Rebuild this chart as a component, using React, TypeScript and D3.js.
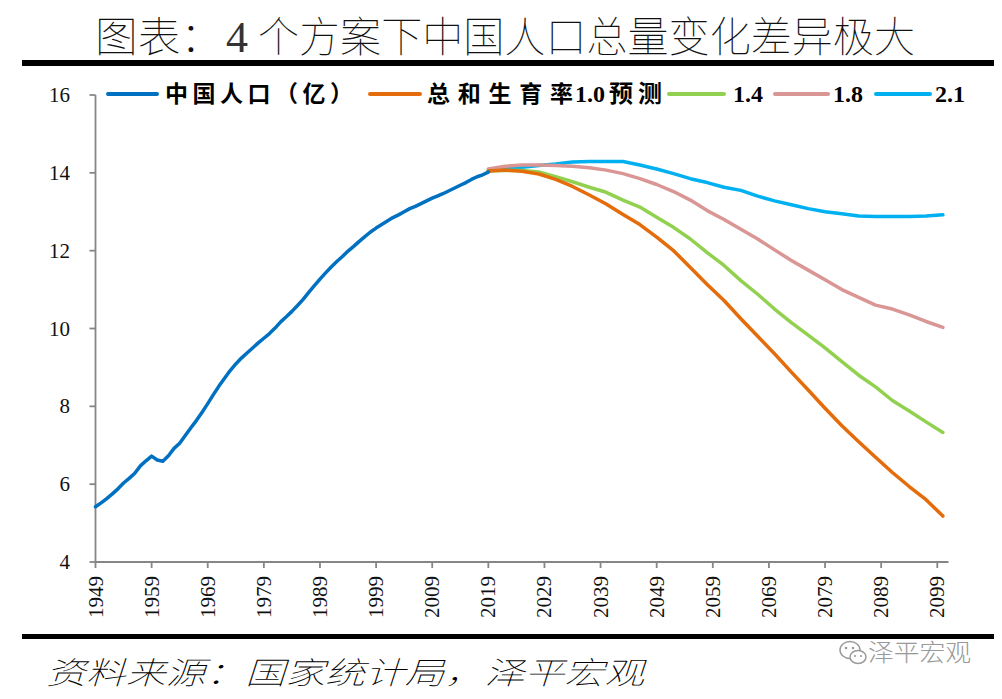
import React from "react";
import * as d3 from "d3";

// ---- data ----
const histYears: number[] = d3.range(1949, 2020);
const histPop: number[] = [
  5.42, 5.52, 5.63, 5.75, 5.88, 6.03, 6.15, 6.28, 6.47, 6.6,
  6.72, 6.62, 6.59, 6.73, 6.92, 7.05, 7.25, 7.45, 7.64, 7.85,
  8.07, 8.3, 8.52, 8.72, 8.92, 9.09, 9.24, 9.37, 9.5, 9.63,
  9.75, 9.87, 10.01, 10.17, 10.3, 10.44, 10.59, 10.75, 10.93, 11.1,
  11.27, 11.43, 11.58, 11.72, 11.85, 11.99, 12.11, 12.24, 12.36, 12.48,
  12.58, 12.67, 12.76, 12.85, 12.92, 13.0, 13.08, 13.14, 13.21, 13.28,
  13.35, 13.41, 13.47, 13.54, 13.61, 13.68, 13.75, 13.83, 13.9, 13.95,
  14.02,
];
const projYears: number[] = [
  2019, 2022, 2025, 2028, 2031, 2034, 2037, 2040, 2043, 2046, 2049, 2052, 2055, 2058,
  2061, 2064, 2067, 2070, 2073, 2076, 2079, 2082, 2085, 2088, 2091, 2094, 2097, 2100,
];
const tfr10: number[] = [
  14.05, 14.07, 14.04, 13.97, 13.83, 13.65, 13.43, 13.2, 12.93, 12.67, 12.35, 12.0, 11.57, 11.13,
  10.72, 10.25, 9.8, 9.35, 8.88, 8.42, 7.95, 7.5, 7.09, 6.69, 6.3, 5.94, 5.6, 5.18,
];
const tfr14: number[] = [
  14.05, 14.06, 14.06, 14.02, 13.9, 13.77, 13.63, 13.5, 13.3, 13.12, 12.86, 12.6, 12.3, 11.95,
  11.62, 11.23, 10.88, 10.5, 10.15, 9.83, 9.5, 9.15, 8.8, 8.5, 8.15, 7.88, 7.6, 7.33,
];
const tfr18: number[] = [
  14.1, 14.17, 14.2, 14.2, 14.19, 14.17, 14.13, 14.07, 13.98, 13.85, 13.7, 13.52, 13.3, 13.03,
  12.8, 12.55, 12.3, 12.02, 11.75, 11.5, 11.25, 11.0, 10.8, 10.6, 10.5, 10.35, 10.18, 10.03,
];
const tfr21: number[] = [
  14.06, 14.1, 14.14, 14.19, 14.23, 14.28, 14.29, 14.29, 14.29, 14.2, 14.1, 13.98, 13.85, 13.75,
  13.63, 13.55, 13.4, 13.28, 13.18, 13.08, 13.0, 12.95, 12.89, 12.88, 12.88, 12.88, 12.89, 12.92,
];
const xTickYears: number[] = [1949, 1959, 1969, 1979, 1989, 1999, 2009, 2019, 2029, 2039, 2049, 2059, 2069, 2079, 2089, 2099];
const yTicks: number[] = [4, 6, 8, 10, 12, 14, 16];

const titleA = "图表：";
const titleNum = "4";
const titleB = "个方案下中国人口总量变化差异极大";
const sourceText = "资料来源：国家统计局，泽平宏观";
const watermarkText = "泽平宏观";

const COLORS = {
  hist: "#0070C0",
  t10: "#E46C0A",
  t14: "#92D050",
  t18: "#D99694",
  t21: "#00B0F0",
};

const CJK = "'Noto Sans CJK SC', 'Noto Sans', sans-serif";
const SERIF = "'Liberation Serif', 'DejaVu Serif', serif";

export default function App() {
  const W = 1002, H = 699;
  const x = d3.scaleLinear().domain([1949, 2101]).range([95.5, 948.5]);
  const y = d3.scaleLinear().domain([4, 16]).range([562, 95]);
  const line = d3
    .line<[number, number]>()
    .x((d) => x(d[0]))
    .y((d) => y(d[1]))
    .curve(d3.curveLinear);

  const histData = histYears.map((yr, i) => [yr, histPop[i]] as [number, number]);
  const mk = (vals: number[]) => projYears.map((yr, i) => [yr, vals[i]] as [number, number]);

  const series = [
    { data: mk(tfr21), color: COLORS.t21 },
    { data: mk(tfr18), color: COLORS.t18 },
    { data: mk(tfr14), color: COLORS.t14 },
    { data: mk(tfr10), color: COLORS.t10 },
    { data: histData, color: COLORS.hist },
  ];

  const legendY = 94;
  const legend = [
    { x1: 108, x2: 157, color: COLORS.hist },
    { x1: 370, x2: 420, color: COLORS.t10 },
    { x1: 669, x2: 724, color: COLORS.t14 },
    { x1: 775, x2: 828, color: COLORS.t18 },
    { x1: 876, x2: 930, color: COLORS.t21 },
  ];

  return (
    <div style={{ margin: "-8px" }}>
      <svg width={W} height={H} viewBox={`0 0 ${W} ${H}`} style={{ display: "block", background: "#fff" }}>
        <rect x={0} y={0} width={W} height={H} fill="#fff" />
        {/* title */}
        <g fontFamily={CJK} fontWeight={100} fontSize={42} fill="#111">
          <text x={95} y={52} textLength={128} lengthAdjust="spacingAndGlyphs">{titleA}</text>
          <text x={226} y={52} fontFamily={SERIF} fontSize={44} fontWeight={400} fill="#333">{titleNum}</text>
          <text x={258} y={52} textLength={657} lengthAdjust="spacingAndGlyphs">{titleB}</text>
        </g>
        <rect x={22} y={60} width={974} height={6} fill="#000" />

        {/* legend */}
        {legend.map((l, i) => (
          <line key={i} x1={l.x1} x2={l.x2} y1={legendY} y2={legendY} stroke={l.color} strokeWidth={4} strokeLinecap="round" />
        ))}
        <g fontWeight="bold" fill="#000">
          <text x={165} y={legendY + 8} fontFamily={CJK} fontSize={23} textLength={188} lengthAdjust="spacing">
            中国人口（亿）
          </text>
          <text x={427} y={legendY + 8} fontFamily={CJK} fontSize={23} textLength={146} lengthAdjust="spacing">
            总和生育率
          </text>
          <text x={575} y={legendY + 8} fontFamily={SERIF} fontSize={24}>1.0</text>
          <text x={609} y={legendY + 8} fontFamily={CJK} fontSize={24} textLength={53} lengthAdjust="spacing">预测</text>
          <text x={733} y={legendY + 8} fontFamily={SERIF} fontSize={24}>1.4</text>
          <text x={833} y={legendY + 8} fontFamily={SERIF} fontSize={24}>1.8</text>
          <text x={935} y={legendY + 8} fontFamily={SERIF} fontSize={24}>2.1</text>
        </g>

        {/* axes */}
        <g stroke="#868686" strokeWidth={1.8} fill="none">
          <line x1={x(1949)} x2={x(1949)} y1={y(16)} y2={y(4)} />
          <line x1={x(1949)} x2={x(2101)} y1={y(4)} y2={y(4)} />
          {yTicks.map((t) => (
            <line key={"yt" + t} x1={x(1949) - 6} x2={x(1949)} y1={y(t)} y2={y(t)} />
          ))}
          {xTickYears.map((t) => (
            <line key={"xt" + t} x1={x(t)} x2={x(t)} y1={y(4)} y2={y(4) + 6} />
          ))}
        </g>
        <g fontFamily={SERIF} fontSize={21} fill="#111">
          {yTicks.map((t) => (
            <text key={"yl" + t} x={70} y={y(t) + 7} textAnchor="end">
              {t}
            </text>
          ))}
          {xTickYears.map((t) => (
            <text
              key={"xl" + t}
              transform={`translate(${x(t) + 7},${y(4) + 14}) rotate(-90)`}
              textAnchor="end"
            >
              {t}
            </text>
          ))}
        </g>

        {/* lines */}
        {series.map((s, i) => (
          <path key={i} d={line(s.data) || ""} fill="none" stroke={s.color} strokeWidth={3.5} strokeLinejoin="round" strokeLinecap="round" />
        ))}

        {/* bottom rule */}
        <rect x={22} y={634} width={974} height={5} fill="#000" />
        <text
          x={46}
          y={684}
          fontFamily={CJK}
          fontWeight={100}
          fontStyle="italic"
          fontSize={31}
          textLength={598}
          lengthAdjust="spacingAndGlyphs"
          fill="#000"
        >
          {sourceText}
        </text>

        {/* watermark */}
        <g fill="none" stroke="#9a9a9a" strokeWidth={1.5}>
          <ellipse cx={850} cy={650} rx={10} ry={8.5} fill="#fff" />
          <ellipse cx={858} cy={657} rx={8} ry={6.5} fill="#fff" />
        </g>
        <g fill="#9a9a9a">
          <circle cx={846} cy={648} r={1.3} />
          <circle cx={853} cy={648} r={1.3} />
          <circle cx={855} cy={656} r={1.1} />
          <circle cx={861} cy={656} r={1.1} />
        </g>
        <text x={868} y={661} fontFamily={CJK} fontWeight={300} fontSize={24} fill="#999" textLength={103} lengthAdjust="spacingAndGlyphs">
          {watermarkText}
        </text>
      </svg>
    </div>
  );
}
